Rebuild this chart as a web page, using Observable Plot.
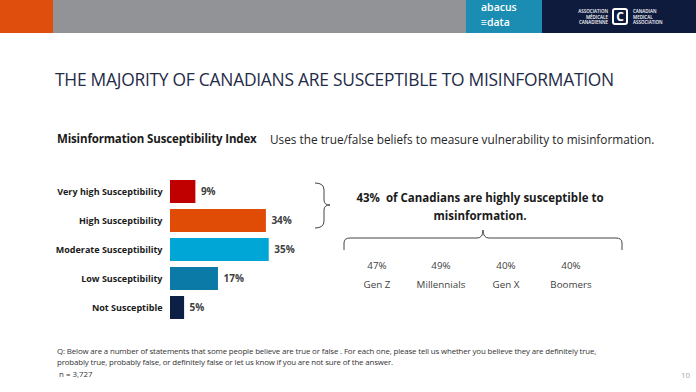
<!DOCTYPE html>
<html>
<head>
<meta charset="utf-8">
<script src="https://cdn.jsdelivr.net/npm/d3@7"></script>
<script src="https://cdn.jsdelivr.net/npm/@observablehq/plot@0.6"></script>
<style>
  html, body { margin:0; padding:0; background:#fff; }
  body { width:696px; height:392px; position:relative; overflow:hidden; font-family:"Open Sans", Lato, sans-serif; }
  .abs { position:absolute; white-space:nowrap; line-height:1; }
  #chart { position:absolute; left:0; top:160px; }
  #deco { position:absolute; left:0; top:0; }
</style>
</head>
<body>
<div class="abs" style="left:0;top:0;width:53px;height:33px;background:#e04e0e"></div>
<div class="abs" style="left:53px;top:0;width:413px;height:33px;background:#929396"></div>
<div class="abs" style="left:466px;top:0;width:76px;height:33px;background:#1b8db2"></div>
<div class="abs" style="left:542px;top:0;width:154px;height:33px;background:#0f1b3d"></div>
<div class="abs" style="left:481px;top:2px;color:#fff;font:600 10.5px 'Open Sans';line-height:11px;">abacus</div>
<div class="abs" style="left:481px;top:17px;color:#fff;font:600 10.5px 'Open Sans';line-height:11px;">&#8801;data</div>
<div class="abs" style="left:560px;top:9px;color:#fff;font:600 4.5px 'Open Sans';line-height:5.5px;text-align:right;width:48px;">ASSOCIATION<br>MÉDICALE<br>CANADIENNE</div>
<div class="abs" style="left:612px;top:8px;width:16px;height:17px;border:2px solid #fff;border-radius:3px;box-sizing:border-box;color:#fff;font:700 12px 'Open Sans';text-align:center;line-height:13px;">C</div>
<div class="abs" style="left:633px;top:9px;color:#fff;font:600 4.5px 'Open Sans';line-height:5.5px;">CANADIAN<br>MEDICAL<br>ASSOCIATION</div>

<div class="abs" id="title" style="left:55px;top:67px;color:#1f2b48;font:400 17.4px 'Open Sans';letter-spacing:-0.25px;">THE MAJORITY OF CANADIANS ARE SUSCEPTIBLE TO MISINFORMATION</div>
<div class="abs" style="left:57px;top:131px;color:#1a1a1a;font:700 11.5px 'Open Sans';letter-spacing:-0.15px;">Misinformation Susceptibility Index</div>
<div class="abs" style="left:270px;top:131px;color:#262626;font:400 11.8px 'Open Sans';letter-spacing:0px;">Uses the true/false beliefs to measure vulnerability to misinformation.</div>

<div id="chart"></div>

<svg id="deco" width="696" height="392" style="pointer-events:none">
  <path d="M315,183 Q324,183 324,190 L324,200 Q324,205 330,205 Q324,205 324,210 L324,221 Q324,228 315,228" fill="none" stroke="#444" stroke-width="1"/>
  <path d="M344,250 L344,243 Q344,238 350,238 L477,238 Q483,238 483,230 Q483,238 489,238 L616,238 Q622,238 622,243 L622,250" fill="none" stroke="#444" stroke-width="1"/>
</svg>

<div class="abs" style="left:330px;top:189px;width:300px;text-align:center;color:#1a1a1a;font:700 11.5px 'Open Sans';line-height:18px;white-space:normal;">43%&nbsp; of Canadians are highly susceptible to misinformation.</div>
<div id="gens"></div>

<div class="abs" style="left:57px;top:346px;color:#333;font:400 7.9px 'Open Sans';line-height:11px;letter-spacing:-0.15px;">Q: Below are a number of statements that some people believe are true or false . For each one, please tell us whether you believe they are definitely true,<br>probably true, probably false, or definitely false or let us know if you are not sure of the answer.</div>
<div class="abs" style="left:59px;top:369px;color:#333;font:400 7.9px 'Open Sans';">n = 3,727</div>
<div class="abs" style="left:681px;top:369px;color:#aaa;font:400 8px 'Open Sans';">10</div>

<script>
const categories = ["Very high Susceptibility","High Susceptibility","Moderate Susceptibility","Low Susceptibility","Not Susceptible"];
const values = [9, 34, 35, 17, 5];
const barColors = ["#c00000","#e04b06","#00a6d6","#0b7aa6","#0e1f45"];
const generations = ["Gen Z","Millennials","Gen X","Boomers"];
const genValues = [47, 49, 40, 40];
const genCenters = [377, 441, 506, 571];

const data = categories.map((c,i)=>({category:c, value:values[i], color:barColors[i]}));

const chart = Plot.plot({
  width: 330,
  height: 172,
  marginLeft: 170,
  marginRight: 50,
  marginTop: 12,
  marginBottom: 5,
  style: {fontFamily: "'Open Sans', sans-serif", background: "transparent"},
  x: {domain: [0, 39], axis: null},
  y: {domain: categories, padding: 0.2, label: null},
  marks: [
    Plot.axisY({tickSize: 0, tickPadding: 8, fontSize: 9, fontWeight: 700, fill: "#1a1a1a", label: null}),
    Plot.barX(data, {y: "category", x: "value", fill: d => d.color}),
    Plot.text(data, {y: "category", x: "value", text: d => d.value + "%", textAnchor: "start", dx: 5, fontSize: 10, fontWeight: 700, fill: "#404040"})
  ]
});
document.getElementById("chart").appendChild(chart);

const gens = document.getElementById("gens");
generations.forEach((g,i)=>{
  const v = document.createElement("div");
  v.className = "abs";
  v.style.cssText = `left:${genCenters[i]-40}px;width:80px;text-align:center;top:259px;color:#404040;font:400 9.8px 'Open Sans';`;
  v.textContent = genValues[i] + "%";
  gens.appendChild(v);
  const l = document.createElement("div");
  l.className = "abs";
  l.style.cssText = `left:${genCenters[i]-40}px;width:80px;text-align:center;top:278px;color:#404040;font:400 9.8px 'Open Sans';`;
  l.textContent = g;
  gens.appendChild(l);
});
</script>
</body>
</html>
